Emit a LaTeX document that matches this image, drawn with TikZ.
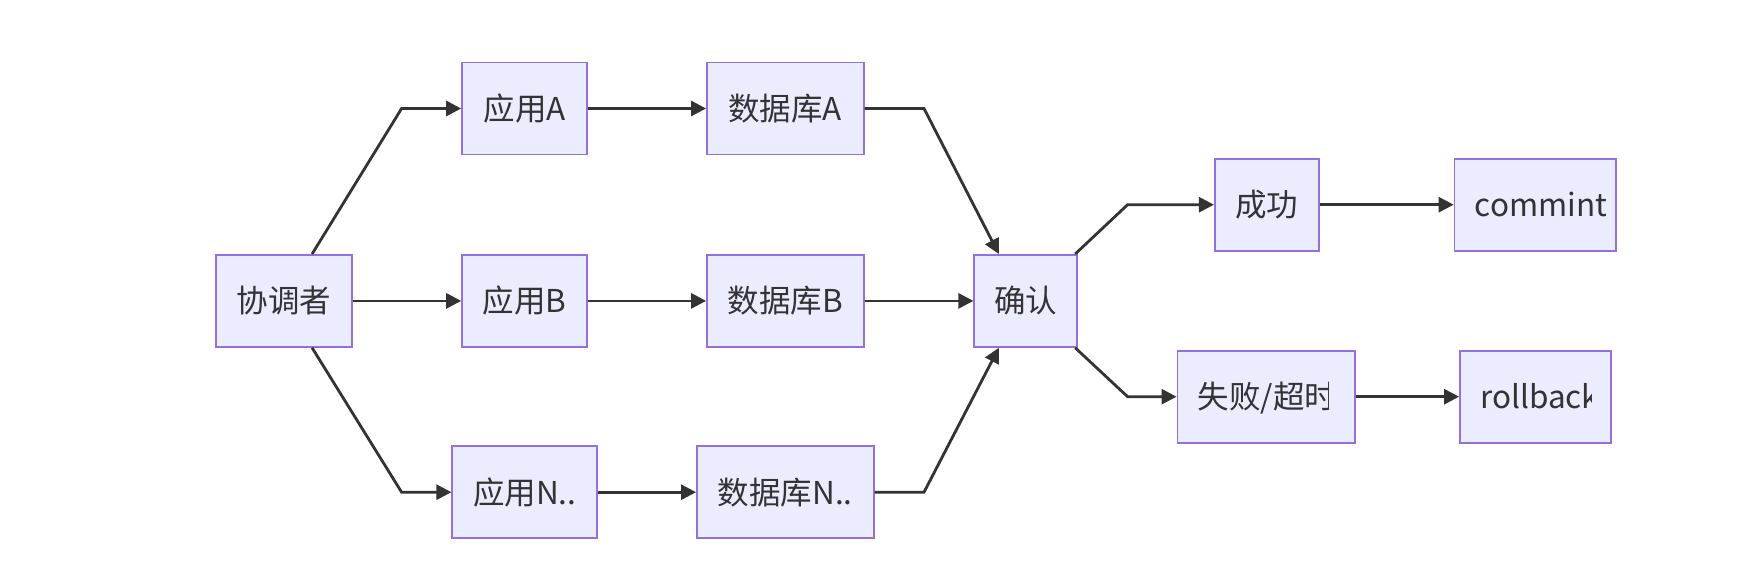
\documentclass[tikz,border=0pt]{standalone}
\usepackage{fontspec}
\setmainfont{Noto Sans CJK SC}
\usetikzlibrary{arrows.meta,calc}
\definecolor{nodefill}{HTML}{ECECFF}
\definecolor{nodeborder}{HTML}{9370DB}
\definecolor{linec}{HTML}{333333}
\definecolor{txt}{HTML}{333333}
\tikzset{
  box/.style={draw=nodeborder, fill=nodefill, line width=1.8pt, minimum height=92pt, inner sep=0pt, text=txt, font=\fontsize{31.5}{36}\selectfont, text height=27pt, text depth=3pt},
  lbl/.style={inner sep=0pt, text=txt, font=\fontsize{31.5}{36}\selectfont, text height=27pt, text depth=3pt},
  edge/.style={draw=linec, line width=2.8pt, -{Triangle[length=15pt,width=15pt]}},
}
% #1 node name, #2 right inset of the clip, #3 text
\newcommand{\myclipped}[3]{%
  \begin{scope}
    \clip ([xshift=21pt,yshift=2pt]#1.south west) rectangle ([xshift=-#2pt,yshift=-2pt]#1.north east);
    \node[lbl, anchor=west] (#1-t) at ([xshift=21pt]#1.west) {#3};
  \end{scope}}
\begin{document}
\begin{tikzpicture}[x=1pt,y=-1pt]
\useasboundingbox[fill=white] (0,0) rectangle (1754,572);
% nodes
\node[box, minimum width=136pt] (coord) at (284.1,300.9) {协调者};
\node[box, minimum width=125pt] (appA) at (524.6,108.5) {应用A};
\node[box, minimum width=156.6pt] (dbA) at (785.3,108.5) {数据库A};
\node[box, minimum width=125pt] (appB) at (524.6,300.9) {应用B};
\node[box, minimum width=156.6pt] (dbB) at (785.3,300.9) {数据库B};
\node[box, minimum width=145pt] (appN) at (524.8,492.2) {应用N..};
\node[box, minimum width=176.7pt] (dbN) at (785.3,492.2) {数据库N..};
\node[box, minimum width=103pt] (conf) at (1025.8,300.9) {确认};
\node[box, minimum width=104pt] (succ) at (1266.8,204.7) {成功};
\node[box, minimum width=161.5pt] (commit) at (1535.3,204.7) {};
\node[box, minimum width=177.5pt] (fail) at (1266.2,396.7) {};
\node[box, minimum width=151pt] (roll) at (1535.5,396.7) {};
\myclipped{commit}{11}{commint}
\myclipped{fail}{27}{失败/超时}
\myclipped{roll}{20}{rollback}
% bend coordinates
\coordinate (bA) at (401.6,108.5);
\coordinate (bN) at (401.6,492.2);
\coordinate (bdA) at (924,108.5);
\coordinate (bdN) at (924,492.2);
\coordinate (bS) at (1127.6,204.7);
\coordinate (bF) at (1127.6,396.7);
% edges
\draw[edge] ([xshift=28pt]coord.north) -- (bA) -- (appA.west);
\draw[edge] (coord.east) -- (appB.west);
\draw[edge] ([xshift=28pt]coord.south) -- (bN) -- (appN.west);
\draw[edge] (appA.east) -- (dbA.west);
\draw[edge] (appB.east) -- (dbB.west);
\draw[edge] (appN.east) -- (dbN.west);
\draw[edge] (dbA.east) -- (bdA) -- ([xshift=-27pt]conf.north);
\draw[edge] (dbB.east) -- (conf.west);
\draw[edge] (dbN.east) -- (bdN) -- ([xshift=-27pt]conf.south);
\draw[edge] ([xshift=-3pt]conf.north east) -- (bS) -- (succ.west);
\draw[edge] ([xshift=-3pt]conf.south east) -- (bF) -- (fail.west);
\draw[edge] (succ.east) -- (commit.west);
\draw[edge] (fail.east) -- (roll.west);
\end{tikzpicture}
\end{document}
